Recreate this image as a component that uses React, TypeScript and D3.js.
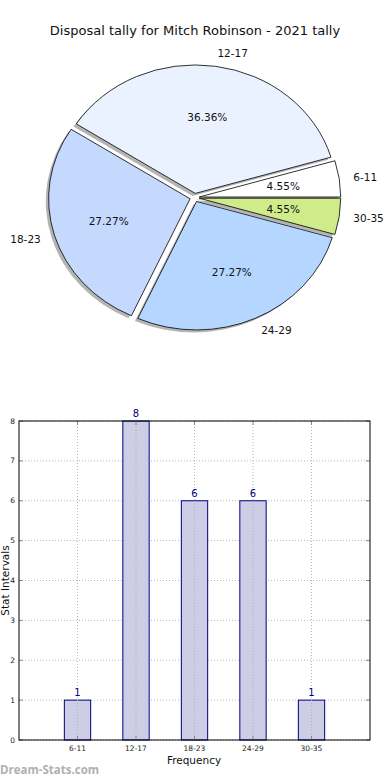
import React from 'react';
import * as d3 from 'd3';

// data
const categories = ['6-11', '12-17', '18-23', '24-29', '30-35'];
const tally = [1, 8, 6, 6, 1];
const yTicks = [0, 1, 2, 3, 4, 5, 6, 7, 8];
const sliceColors = ['#ffffff', '#eaf1ff', '#c5d9ff', '#b5d7ff', '#d0ec8a'];

const W = 390;
const H = 780;
const font = "'DejaVu Sans', sans-serif";

const App: React.FC = () => {
  // ---- pie (elliptical, matplotlib style: ccw from 3 o'clock) ----
  const cx = 194.6, cy = 197.6, rx = 141.5, ry = 128.5;
  const explode = 0.033;
  const total = d3.sum(tally);
  const pie = d3.pie<number>()
    .sort(null)
    .startAngle(Math.PI / 2)
    .endAngle(Math.PI / 2 - 2 * Math.PI);
  const slices = pie(tally);
  const arc = d3.arc<d3.PieArcDatum<number>>().innerRadius(0).outerRadius(1);
  const pct = d3.format('.2f');

  const geom = slices.map((s, i) => {
    const mid = (s.startAngle + s.endAngle) / 2;
    const sx = Math.sin(mid);
    const sy = -Math.cos(mid);
    const ox = cx + explode * rx * sx;
    const oy = cy + explode * ry * sy;
    return { s, i, sx, sy, ox, oy };
  });

  // ---- bar chart ----
  const x = d3.scaleLinear().domain([-1, categories.length]).range([19, 370]);
  const y = d3.scaleLinear().domain([0, 8]).range([740, 421]);
  const barW = x(0.45) - x(0);
  const [x0, x1] = x.range();
  const [y0, y1] = y.range();

  return (
    <svg width={W} height={H} style={{ position: 'absolute', left: 0, top: 0, background: '#fff' }}
      fontFamily={font}>
      <text x={195} y={35} textAnchor="middle" fontSize={13} fill="#111">
        Disposal tally for Mitch Robinson - 2021 tally
      </text>

      {/* shadows first */}
      {geom.map(g => (
        <path key={'sh' + g.i} d={arc(g.s) || ''}
          transform={`translate(${g.ox - 0.02 * rx},${g.oy + 0.02 * ry}) scale(${rx},${ry})`}
          fill="#777" fillOpacity={0.55} />
      ))}
      {geom.map(g => (
        <path key={'w' + g.i} d={arc(g.s) || ''}
          transform={`translate(${g.ox},${g.oy}) scale(${rx},${ry})`}
          fill={sliceColors[g.i]} stroke="#000" strokeWidth={0.8}
          vectorEffect="non-scaling-stroke" strokeLinejoin="round" />
      ))}
      {geom.map(g => (
        <text key={'l' + g.i}
          x={g.ox + 1.1 * rx * g.sx} y={g.oy + 1.1 * ry * g.sy}
          textAnchor={g.sx > 0 ? 'start' : 'end'} dominantBaseline="central"
          fontSize={10.5} fill="#111">
          {categories[g.i]}
        </text>
      ))}
      {geom.map(g => (
        <text key={'p' + g.i}
          x={g.ox + 0.6 * rx * g.sx} y={g.oy + 0.6 * ry * g.sy}
          textAnchor="middle" dominantBaseline="central"
          fontSize={10.5} fill="#111">
          {pct((tally[g.i] / total) * 100) + '%'}
        </text>
      ))}

      {/* bar chart grid */}
      {categories.map((c, i) => (
        <line key={'gx' + c} x1={x(i)} x2={x(i)} y1={y1} y2={y0}
          stroke="#b8b8b8" strokeWidth={1} strokeDasharray="1,2" />
      ))}
      {yTicks.map(t => (
        <line key={'gy' + t} x1={x0} x2={x1} y1={y(t)} y2={y(t)}
          stroke="#b8b8b8" strokeWidth={1} strokeDasharray="1,2" />
      ))}

      {/* bars */}
      {tally.map((v, i) => (
        <g key={'b' + i}>
          <rect x={x(i) - barW / 2} y={y(v)} width={barW} height={y(0) - y(v)}
            fill="#cdcde5" stroke="#000080" strokeWidth={1} />
          <text x={x(i)} y={y(v) - 4} textAnchor="middle" fontSize={10} fill="#000080">
            {v}
          </text>
        </g>
      ))}
      {/* grid shows through bars in the reference */}
      {categories.map((c, i) => (
        <line key={'gx2' + c} x1={x(i)} x2={x(i)} y1={y(tally[i])} y2={y0}
          stroke="#b0b0b0" strokeWidth={1} strokeDasharray="1,2" />
      ))}

      {/* ticks (inward, all sides) */}
      {categories.map((c, i) => (
        <g key={'tx' + c}>
          <line x1={x(i)} x2={x(i)} y1={y0} y2={y0 - 4} stroke="#888" />
          <line x1={x(i)} x2={x(i)} y1={y1} y2={y1 + 4} stroke="#888" />
          <text x={x(i)} y={751} textAnchor="middle" fontSize={7.5} fill="#222">{c}</text>
        </g>
      ))}
      {yTicks.map(t => (
        <g key={'ty' + t}>
          <line x1={x0} x2={x0 + 4} y1={y(t)} y2={y(t)} stroke="#888" />
          <line x1={x1} x2={x1 - 4} y1={y(t)} y2={y(t)} stroke="#888" />
          <text x={15} y={y(t)} textAnchor="end" dominantBaseline="central" fontSize={7.5} fill="#222">
            {t}
          </text>
        </g>
      ))}

      <rect x={x0} y={y1} width={x1 - x0} height={y0 - y1} fill="none" stroke="#000" strokeWidth={1} />

      <text x={194} y={764} textAnchor="middle" fontSize={10.5} fill="#111">Frequency</text>
      <text transform={`translate(9,${(y0 + y1) / 2}) rotate(-90)`} textAnchor="middle"
        fontSize={10.5} fill="#111">Stat Intervals</text>

      <text x={0} y={774} fontSize={11.5} fontWeight="bold" fill="#b0b0b0"
        fontFamily="'Open Sans', 'DejaVu Sans', sans-serif">Dream-Stats.com</text>
    </svg>
  );
};

export default App;
